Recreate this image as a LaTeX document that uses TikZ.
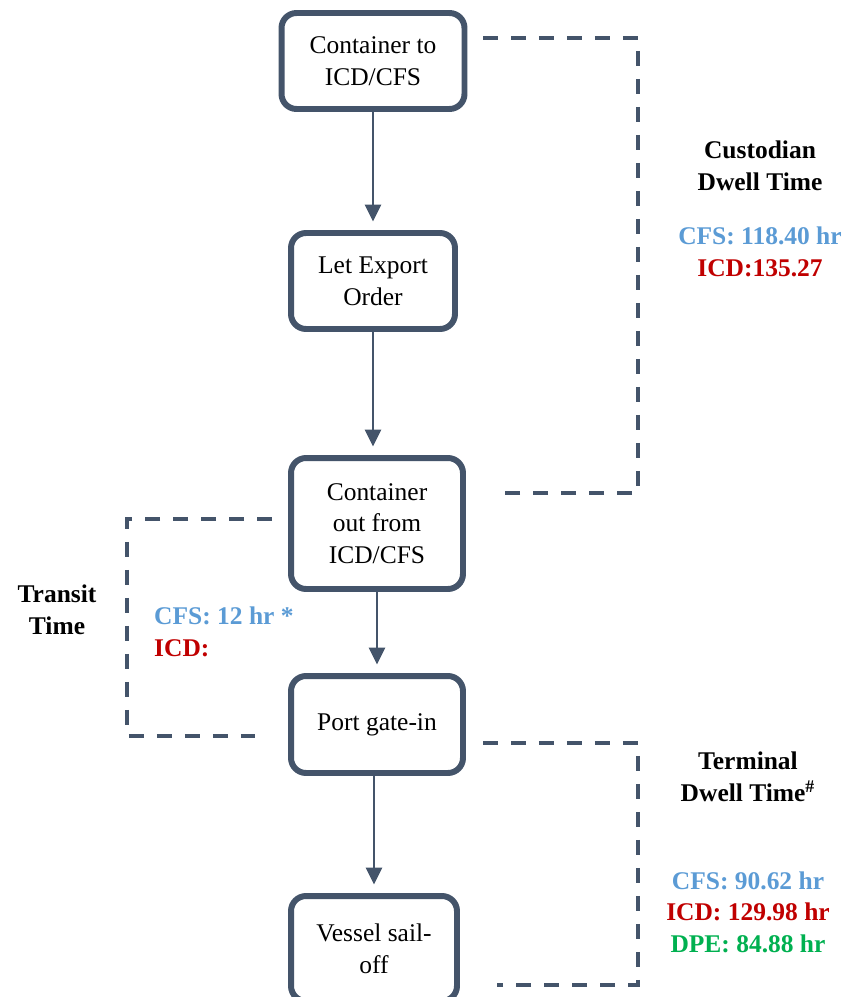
\documentclass[tikz,border=0pt]{standalone}
\usepackage{fontspec}
\setmainfont{Liberation Serif}
\usetikzlibrary{arrows.meta}
\definecolor{slate}{HTML}{44546A}
\definecolor{cfsblue}{HTML}{5B9BD5}
\definecolor{icdred}{HTML}{C00000}
\definecolor{dpegreen}{HTML}{00B050}
\tikzset{
	stepbox/.style={draw=slate, line width=3.4pt, rounded corners=0.3cm, fill=white, align=center, inner sep=2pt, font=\fontsize{14.5}{18}\selectfont},
	flowarrow/.style={draw=slate, line width=1.7pt, -{Triangle[width=0.32cm,length=0.34cm]}, shorten >=0.17cm},
	bracket/.style={draw=slate, line width=2.3pt, dash pattern=on 0.3cm off 0.26cm},
	labeltext/.style={align=center, font=\bfseries\fontsize{14.5}{18}\selectfont},
}

\begin{document}
\begin{tikzpicture}[x=0.02cm, y=-0.02cm]
			%%%%% START %%%%%
			
			\useasboundingbox (0, 0) rectangle (843, 997);
			
			% steps
			\node[stepbox, minimum width=3.66cm, minimum height=1.92cm] (toicd) at (373, 61) {Container to\\ICD/CFS};
			\node[stepbox, minimum width=3.28cm, minimum height=1.92cm] (leo) at (373, 281) {Let Export\\Order};
			\node[stepbox, minimum width=3.44cm, minimum height=2.62cm] (outicd) at (377, 523.5) {Container\\out from\\ICD/CFS};
			\node[stepbox, minimum width=3.44cm, minimum height=1.94cm] (gatein) at (377, 724.5) {Port gate-in};
			\node[stepbox, minimum width=3.32cm, minimum height=2.1cm] (sailoff) at (374, 948.5) {Vessel sail-\\off};
			
			\draw[flowarrow] (toicd.south) -- (leo.north);
			\draw[flowarrow] (leo.south) -- (leo.south |- outicd.north);
			\draw[flowarrow] (outicd.south) -- (gatein.north);
			\draw[flowarrow] (sailoff.north |- gatein.south) -- (sailoff.north);
			
			% dwell brackets
			\coordinate (custA) at (483, 38);
			\coordinate (custB) at (493, 493);
			\coordinate (custR) at (638, 0);
			\draw[bracket] (custA) -| (custR |- custB) -- (custB);
			
			\coordinate (transA) at (272, 519);
			\coordinate (transB) at (255, 736);
			\coordinate (transL) at (127, 0);
			\draw[bracket] (transA) -| (transL |- transB) -- (transB);
			
			\coordinate (termA) at (483, 743);
			\coordinate (termB) at (497, 985);
			\coordinate (termR) at (638, 0);
			\draw[bracket] (termA) -| (termR |- termB) -- (termB);
			
			% labels
			\node[labeltext] (custlbl) at (760, 166) {Custodian\\Dwell Time};
			\node[labeltext] (custval) at (760, 252) {{\color{cfsblue}CFS: 118.40 hr}\\{\color{icdred}ICD:135.27}};
			
			\node[labeltext] (translbl) at (57, 610) {Transit\\Time};
			\node[labeltext, align=left, anchor=west] (transval) at (148, 632) {{\color{cfsblue}CFS: 12 hr *}\\{\color{icdred}ICD:}};
			
			\node[labeltext] (termlbl) at (748, 777) {Terminal\\Dwell Time\textsuperscript{\#}};
			\node[labeltext] (termval) at (748, 912) {{\color{cfsblue}CFS: 90.62 hr}\\{\color{icdred}ICD: 129.98 hr}\\{\color{dpegreen}DPE: 84.88 hr}};
			
			%%%%% END %%%%%
\end{tikzpicture}
\end{document}
